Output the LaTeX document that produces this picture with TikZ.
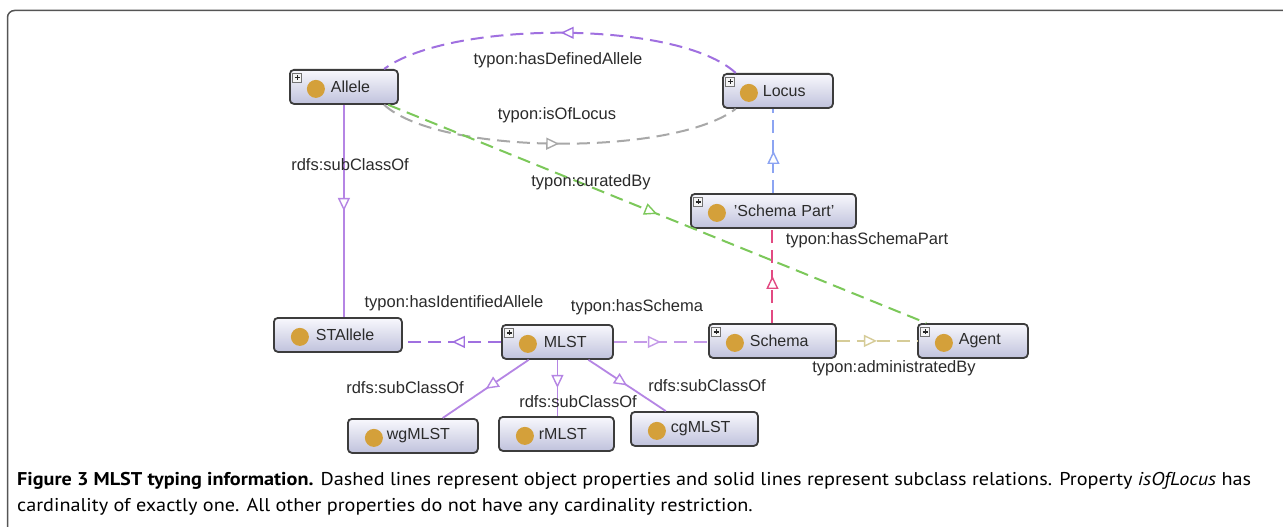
\documentclass[tikz,border=0pt]{standalone}
\usepackage{fontspec}
\setmainfont{Liberation Sans}
\newfontfamily\capfont{PT Sans}
\usetikzlibrary{arrows.meta,decorations.markings,calc}
\definecolor{boxtop}{HTML}{F8F8FD}
\definecolor{boxbot}{HTML}{C0C2DC}
\definecolor{boxline}{HTML}{3C3C3C}
\definecolor{gold}{HTML}{D4A03A}
\definecolor{lblc}{HTML}{2B2B2B}
\definecolor{cPurple}{HTML}{A070E0}
\definecolor{cGray}{HTML}{A8A8A8}
\definecolor{cBlue}{HTML}{8CA4F2}
\definecolor{cPink}{HTML}{E24A82}
\definecolor{cGreen}{HTML}{7CC85A}
\definecolor{cTan}{HTML}{D6CC98}
\definecolor{cLilac}{HTML}{C49AE8}
\definecolor{cSub}{HTML}{B585E4}
\definecolor{frameC}{HTML}{555555}
\newsavebox\capA
\newsavebox\capB
\newdimen\capw
\begin{document}
\sbox\capA{\capfont\fontsize{18.5}{22}\selectfont\textbf{Figure 3 MLST typing information.} Dashed lines represent object properties and solid lines represent subclass relations. Property \textit{isOfLocus} has}%
\sbox\capB{\capfont\fontsize{18.5}{22}\selectfont cardinality of exactly one. All other properties do not have any cardinality restriction.}%
\capw=\wd\capA
\pgfmathsetmacro\capsc{1234/\capw}%
\begin{tikzpicture}[x=1pt,y=-1pt,
  cls/.style={draw=boxline, line width=1.8pt, rounded corners=4pt,
    top color=boxtop, bottom color=boxbot,
    minimum width=#1pt, text width=#1pt, minimum height=34pt,
    inner sep=0pt, align=left, anchor=north west,
    font=\fontsize{16}{18}\selectfont, text=lblc,
    path picture={\fill[gold] ([xshift=26pt,yshift=-2pt]path picture bounding box.west) circle (9pt);}},
  pcls/.style={cls=#1,
    path picture={\fill[gold] ([xshift=26pt,yshift=-2pt]path picture bounding box.west) circle (9pt);
      \draw[sharp corners, draw=gray!90!black, fill=white!92!gray, line width=0.9pt]
        ([shift={(3pt,-3.5pt)}]path picture bounding box.north west) rectangle +(9pt,-9pt);
      \draw[sharp corners, line width=1.2pt, draw=black!85]
        ([shift={(5pt,-8pt)}]path picture bounding box.north west) -- +(5pt,0pt)
        ([shift={(7.5pt,-5.5pt)}]path picture bounding box.north west) -- +(0pt,-5pt);}},
  lbl/.style={font=\fontsize{16.5}{19}\selectfont, text=lblc, inner sep=1pt},
  midarrow/.style={postaction={decorate}, decoration={markings,
    mark=at position 0.5 with {\arrow[solid, line width=1.4pt]{Triangle[length=13pt,width=12pt,fill=white]}}}},
  prop/.style={draw=#1, line width=2pt, dash pattern=on 13pt off 7pt, midarrow},
  sub/.style={draw=cSub, line width=1.8pt, midarrow}
]
\useasboundingbox (0,0) rectangle (1283,527);
\fill[white] (0,0) rectangle (1283,527);
% frame
\draw[frameC, line width=1.5pt, rounded corners=7pt] (7.5,535) -- (7.5,10.5) -- (1295,10.5);

% class boxes
\node[pcls=108] (allele) at (289,69) {\hspace*{41pt}Allele};
\node[pcls=110] (locus) at (722,73) {\hspace*{40pt}Locus};
\node[pcls=165] (spart) at (690,193) {\hspace*{43pt}'Schema Part'};
\node[pcls=127] (schema) at (708,323) {\hspace*{41pt}Schema};
\node[pcls=110] (agent) at (917,323) {\hspace*{41pt}Agent};
\node[cls=128] (stallele) at (273,317) {\hspace*{42pt}STAllele};
\node[pcls=111] (mlst) at (501,324) {\hspace*{42pt}MLST};
\node[cls=130] (wgmlst) at (347,418) {\hspace*{39pt}wgMLST};
\node[cls=115] (rmlst) at (498,416) {\hspace*{40pt}rMLST};
\node[cls=127] (cgmlst) at (630,411) {\hspace*{40pt}cgMLST};

% object properties
\draw[prop=cPurple] (locus.157) .. controls (679,20) and (450,20) .. (allele.24);
\draw[prop=cGray] (allele.-24) .. controls (440,156) and (675,156) .. (locus.203);
\draw[prop=cBlue] (spart.north) -- (locus.south -| spart.north);
\draw[prop=cPink] (schema.north) -- (spart.south -| schema.north);
\draw[prop=cGreen] (allele.-22) -- (agent.159);
\draw[prop=cPurple] (mlst.west) -- (stallele.east |- mlst.west);
\draw[prop=cLilac] (mlst.east) -- (schema.west |- mlst.east);
\draw[prop=cTan] (schema.east) -- (agent.west);

% subclass relations
\draw[sub] (allele.south) -- (stallele.north -| allele.south);
\draw[sub] (mlst.212) -- (wgmlst.31);
\draw[sub] (mlst.south) -- (rmlst.north -| mlst.south);
\draw[sub] (mlst.-30) -- (cgmlst.148);

% labels
\node[lbl] (lDef) at (558,60) {typon:hasDefinedAllele};
\node[lbl] (lLoc) at (557,115) {typon:isOfLocus};
\node[lbl] (lSub1) at (350,165) {rdfs:subClassOf};
\node[lbl] (lCur) at (591,182) {typon:curatedBy};
\node[lbl] (lSP) at (867,240) {typon:hasSchemaPart};
\node[lbl] (lIdA) at (454,303) {typon:hasIdentifiedAllele};
\node[lbl] (lHS) at (637,307) {typon:hasSchema};
\node[lbl] (lAdm) at (894,368) {typon:administratedBy};
\node[lbl] (lSub2) at (405,388) {rdfs:subClassOf};
\node[lbl] (lSub3) at (578,402) {rdfs:subClassOf};
\node[lbl] (lSub4) at (707,386) {rdfs:subClassOf};

% caption
\node[anchor=base west, inner sep=0pt, text=black!85] (cap1) at (17,485) {\scalebox{\capsc}[1]{\usebox\capA}};
\node[anchor=base west, inner sep=0pt, text=black!85] (cap2) at (17,511) {\scalebox{\capsc}[1]{\usebox\capB}};
\end{tikzpicture}
\end{document}
